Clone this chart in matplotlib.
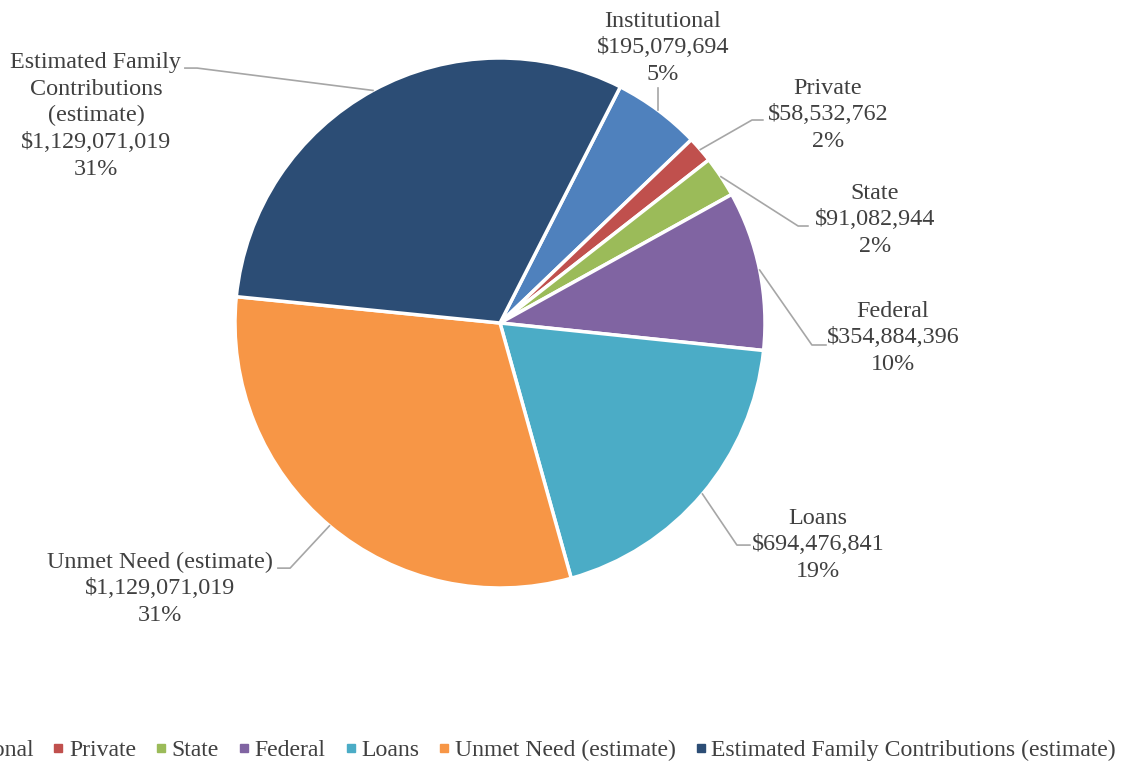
import matplotlib
matplotlib.use("Agg")
import matplotlib.pyplot as plt
from matplotlib.lines import Line2D
import numpy as np

# data
names = ["Institutional", "Private", "State", "Federal", "Loans",
         "Unmet Need (estimate)", "Estimated Family Contributions (estimate)"]
label_names = ["Institutional", "Private", "State", "Federal", "Loans",
               "Unmet Need (estimate)", "Estimated Family\nContributions\n(estimate)"]
values = [195079694, 58532762, 91082944, 354884396, 694476841,
          1129071019, 1129071019]
colors = ["#4F81BD", "#C0504D", "#9BBB59", "#8064A2", "#4BACC6",
          "#F79646", "#2C4D75"]

# layout of the labels (data units, pie radius = 1)
text_pos = [(0.615, 1.038), (1.238, 0.785), (1.415, 0.389), (1.483, -0.056),
            (1.200, -0.837), (-1.283, -1.003), (-1.525, 0.782)]
elbow = [(None, 0.887), (0.951, 0.766), (1.125, 0.366), (1.177, -0.083),
         (0.894, -0.838), (-0.792, -0.925), (-1.143, 0.962)]
tail = [None, 0.992, 1.162, 1.230, 0.943, -0.838, -1.189]

plt.rcParams['font.family'] = ['Liberation Serif', 'DejaVu Serif']
txt_col = "#404040"
line_col = "#A6A6A6"
fs = 17.4

W, H = 1125, 763
fig = plt.figure(figsize=(W / 100, H / 100), dpi=100)
cx, cy, r = 500, 323, 265
ax = fig.add_axes([(cx - r) / W, (H - cy - r) / H, 2 * r / W, 2 * r / H])

start = 63
wedges, _ = ax.pie(values, colors=colors, startangle=start, counterclock=False,
                   radius=1, wedgeprops=dict(edgecolor='white', linewidth=2.5))
ax.set_xlim(-1, 1)
ax.set_ylim(-1, 1)
ax.set_aspect('equal')
ax.axis('off')

total = float(sum(values))
for i, v in enumerate(values):
    pct = v / total * 100
    txt = "%s\n$%s\n%d%%" % (label_names[i], format(v, ","), round(pct))
    tx, ty = text_pos[i]
    ax.text(tx, ty, txt, ha='center', va='center', fontsize=fs,
            color=txt_col, linespacing=1.35, multialignment='center')

    w = wedges[i]
    mid = np.deg2rad((w.theta1 + w.theta2) / 2)
    x0, y0 = np.cos(mid), np.sin(mid)
    ex, ey = elbow[i]
    if ex is None:
        ax.plot([x0, x0], [y0, ey], color=line_col, lw=1.2, clip_on=False)
    else:
        ax.plot([x0, ex, tail[i]], [y0, ey, ey], color=line_col, lw=1.2,
                clip_on=False)

handles = [Line2D([], [], marker='s', linestyle='', markersize=6,
                  markerfacecolor=c, markeredgecolor=c) for c in colors]
fig.legend(handles, names, loc='center right', bbox_to_anchor=(1116 / W, 0.017),
           ncol=7, frameon=False, fontsize=17.1, handlelength=0.4,
           handletextpad=0.25, columnspacing=0.85, borderpad=0,
           borderaxespad=0, labelcolor=txt_col)

fig.savefig("out.png", dpi=100, facecolor='white')
